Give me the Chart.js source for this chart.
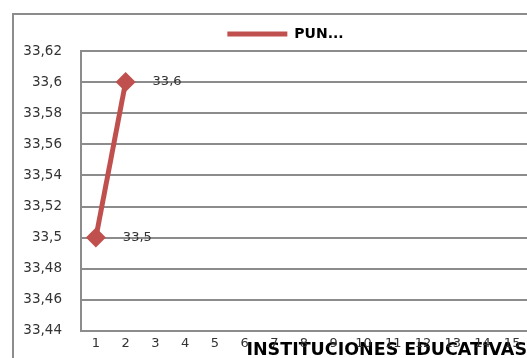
<!DOCTYPE html>
<html lang="es">

<head>
  <meta charset="UTF-8" />
  <title>Puntaje</title>
  <script src="https://cdn.jsdelivr.net/npm/chart.js"></script>
  <style>
    html, body { margin: 0; padding: 0; background: #fff; overflow: hidden; }
    .linea { position: absolute; background: #8c8c8c; }
    .izq { left: 12px; top: 13px; width: 2px; height: 345px; }
    .sup { left: 12px; top: 13px; width: 515px; height: 2px; }
    #grafico { position: absolute; left: 14px; top: 15px; display: block; }
  </style>
</head>

<body>
  <div class="linea izq"></div>
  <div class="linea sup"></div>
  <canvas id="grafico" width="513" height="343"></canvas>

<script>
  // datos
  const categorias = ['1', '2', '3', '4', '5', '6', '7', '8', '9', '10', '11', '12', '13', '14', '15'];
  const puntaje = [33.5, 33.6, null, null, null, null, null, null, null, null, null, null, null, null, null];
  const etiquetasPuntos = ['33,5', '33,6'];
  const etiquetasY = ['33,44', '33,46', '33,48', '33,5', '33,52', '33,54', '33,56', '33,58', '33,6', '33,62'];
  const nombreSerie = 'PUN...';
  const tituloX = 'INSTITUCIONES EDUCATIVAS';

  const rojo = '#c0504d';
  const gris = '#8c8c8c';

  // etiquetas de valor a la derecha de cada punto
  const etiquetasValor = {
    id: 'etiquetasValor',
    afterDatasetsDraw(chart) {
      const ctx = chart.ctx;
      const meta = chart.getDatasetMeta(0);
      ctx.save();
      ctx.font = '13px "DejaVu Sans"';
      ctx.fillStyle = '#333';
      ctx.textAlign = 'left';
      ctx.textBaseline = 'middle';
      meta.data.forEach(function (p, i) {
        if (etiquetasPuntos[i] == undefined) return;
        ctx.fillText(etiquetasPuntos[i], p.x + 27, p.y);
      });
      ctx.restore();
    }
  };

  // la leyenda va centrada sobre el area desde el eje, no sobre todo el lienzo
  const correrLeyenda = {
    id: 'correrLeyenda',
    afterLayout(chart) {
      if (chart.legend) chart.legend.left += 30;
    }
  };

  const dados = {
    labels: categorias,
    datasets: [{
      label: nombreSerie,
      data: puntaje,
      borderColor: rojo,
      backgroundColor: rojo,
      borderWidth: 5,
      pointStyle: 'rectRot',
      pointRadius: 10,
      pointHoverRadius: 10,
      pointBackgroundColor: rojo,
      pointBorderColor: rojo,
      pointBorderWidth: 0,
      tension: 0
    }]
  };

  const config = {
    type: 'line',
    data: dados,
    plugins: [etiquetasValor, correrLeyenda],
    options: {
      responsive: false,
      animation: false,
      layout: { autoPadding: false, padding: { left: 0, top: 2, right: 0, bottom: 0 } },
      plugins: {
        tooltip: { enabled: false },
        legend: {
          position: 'top',
          labels: {
            boxWidth: 60,
            boxHeight: 5,
            padding: 10,
            color: '#000',
            font: { family: '"DejaVu Sans"', size: 14, weight: 'bold' },
            generateLabels: function (chart) {
              const items = Chart.defaults.plugins.legend.labels.generateLabels(chart);
              items.forEach(function (it) { it.lineWidth = 0; });
              return items;
            }
          }
        }
      },
      scales: {
        x: {
          offset: true,
          grid: { display: false, drawTicks: false },
          border: { display: true, color: gris, width: 2 },
          ticks: {
            color: '#333',
            padding: 5,
            maxRotation: 0,
            autoSkip: false,
            font: { family: '"DejaVu Sans"', size: 13 }
          },
          title: {
            display: true,
            text: tituloX,
            align: 'end',
            color: '#000',
            padding: { top: 0, bottom: -3 },
            font: { family: '"DejaVu Sans"', size: 17.5, weight: 'bold', lineHeight: 1 }
          },
          afterFit(scale) {
            scale.height = 25;
            scale.paddingLeft = 0;
            scale.paddingRight = 0;
          }
        },
        y: {
          min: 33.44,
          max: 33.62,
          grid: { color: gris, lineWidth: 2, drawTicks: false },
          border: { display: true, color: gris, width: 2 },
          ticks: {
            stepSize: 0.02,
            padding: 19,
            color: '#333',
            font: { family: '"DejaVu Sans"', size: 13.5 },
            callback: function (valor, indice) { return etiquetasY[indice]; }
          },
          afterFit(scale) { scale.width = 67; }
        }
      }
    }
  };

  let myChart = new Chart(
    document.getElementById('grafico'),
    config
  );
</script>
</body>

</html>
